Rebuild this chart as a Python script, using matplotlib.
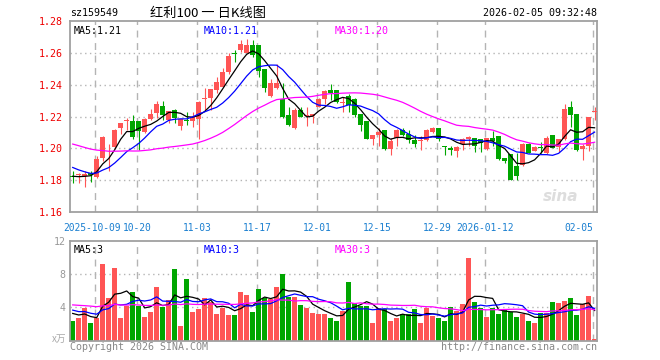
import numpy as np
import pandas as pd
import matplotlib
matplotlib.use("Agg")
import matplotlib.pyplot as plt

plt.rcParams['font.family'] = ['DejaVu Sans Mono', 'Noto Sans CJK SC']

# closes / volumes before the first drawn day, only used to seed the moving averages
prev_close = [1.215, 1.217, 1.214, 1.212, 1.216, 1.213, 1.211, 1.214, 1.212, 1.211,
              1.210, 1.208, 1.211, 1.207, 1.209, 1.205, 1.207, 1.204, 1.202, 1.203,
              1.199, 1.196, 1.193, 1.191, 1.1885, 1.185, 1.183, 1.181, 1.181]
prev_vol = [4.2, 5.1, 3.8, 4.9, 6.0, 4.4, 3.9, 5.2, 4.6, 4.1, 5.5, 4.3, 3.7, 4.8, 5.0,
            4.2, 4.6, 3.9, 4.7, 5.3, 4.5, 3.8, 4.2, 3.9, 3.95, 3.6, 3.3, 3.7, 3.42]

opens = [1.1827, 1.1833, 1.1825, 1.1846, 1.182, 1.194, 1.2, 1.201, 1.213, 1.2171,
         1.2169, 1.2169, 1.210, 1.2183, 1.222, 1.2267, 1.218, 1.2238, 1.2138, 1.2175,
         1.2169, 1.2185, 1.2313, 1.2315, 1.2367, 1.2388, 1.2481, 1.2598, 1.2617, 1.26,
         1.2648, 1.2648, 1.2496, 1.2329, 1.2377, 1.2308, 1.221, 1.2127, 1.2238, 1.2202,
         1.2204, 1.2262, 1.2308, 1.2367, 1.2367, 1.2286, 1.2329, 1.2308, 1.2217, 1.2169,
         1.206, 1.2081, 1.2117, 1.1998, 1.2065, 1.2117, 1.2092, 1.205, 1.2044, 1.205,
         1.21, 1.2127, 1.2013, 1.2002, 1.1981, 1.2029, 1.206, 1.2065, 1.206, 1.1996,
         1.2065, 1.2075, 1.194, 1.1965, 1.1888, 1.1898, 1.2027, 1.1985, 1.2003, 1.1971,
         1.2085, 1.2008, 1.206, 1.2262, 1.2217, 1.1998, 1.2017, 1.2231]
highs = [1.1856, 1.1846, 1.186, 1.1856, 1.195, 1.208, 1.203, 1.212, 1.216, 1.219,
         1.221, 1.2169, 1.219, 1.2246, 1.23, 1.23, 1.2235, 1.2246, 1.2185, 1.223,
         1.223, 1.23, 1.2377, 1.237, 1.2446, 1.2502, 1.2596, 1.2617, 1.268, 1.2685,
         1.2679, 1.2648, 1.2496, 1.2438, 1.2529, 1.2412, 1.2262, 1.2252, 1.2262, 1.2262,
         1.2217, 1.2315, 1.2367, 1.2402, 1.2367, 1.232, 1.234, 1.2315, 1.2217, 1.2169,
         1.2081, 1.2127, 1.2117, 1.2065, 1.2121, 1.2127, 1.2113, 1.2085, 1.2075, 1.2121,
         1.2137, 1.2127, 1.2013, 1.2017, 1.2013, 1.2065, 1.2079, 1.2065, 1.206, 1.2065,
         1.2106, 1.2075, 1.194, 1.1965, 1.197, 1.2033, 1.2033, 1.2017, 1.2038, 1.2075,
         1.2085, 1.2058, 1.2279, 1.2298, 1.2217, 1.2029, 1.22, 1.2262]
lows = [1.1783, 1.178, 1.176, 1.179, 1.1815, 1.192, 1.1856, 1.2005, 1.209, 1.2117,
        1.206, 1.199, 1.2096, 1.2179, 1.219, 1.218, 1.216, 1.2162, 1.2113, 1.2148,
        1.2133, 1.206, 1.2242, 1.224, 1.2346, 1.2385, 1.247, 1.2544, 1.2607, 1.2596,
        1.2575, 1.2446, 1.2356, 1.2325, 1.2371, 1.219, 1.2142, 1.212, 1.2196, 1.2142,
        1.2158, 1.2262, 1.2279, 1.2304, 1.2283, 1.2231, 1.2231, 1.2196, 1.2106, 1.2058,
        1.2023, 1.2012, 1.1992, 1.196, 1.2013, 1.2075, 1.2033, 1.2008, 1.1992, 1.2044,
        1.2096, 1.2044, 1.196, 1.196, 1.1946, 1.1992, 1.2013, 1.1975, 1.1975, 1.199,
        1.2013, 1.1925, 1.1908, 1.18, 1.18, 1.1892, 1.1971, 1.1981, 1.1971, 1.1967,
        1.2002, 1.1975, 1.2054, 1.2133, 1.1981, 1.1929, 1.1983, 1.2179]
closes = [1.1823, 1.1837, 1.184, 1.183, 1.1933, 1.207, 1.2005, 1.2117, 1.216, 1.2175,
          1.2069, 1.2106, 1.2185, 1.2217, 1.228, 1.221, 1.2235, 1.219, 1.2185, 1.2173,
          1.2196, 1.2288, 1.2317, 1.237, 1.2415, 1.2477, 1.2579, 1.2594, 1.2654, 1.2648,
          1.2585, 1.2487, 1.2381, 1.2412, 1.2408, 1.2196, 1.2148, 1.2238, 1.22, 1.2206,
          1.2217, 1.2308, 1.236, 1.235, 1.2294, 1.2288, 1.2273, 1.221, 1.2148, 1.206,
          1.2081, 1.21, 1.1998, 1.2048, 1.2113, 1.2085, 1.2054, 1.2029, 1.205, 1.2113,
          1.2127, 1.2058, 1.2010, 1.1988, 1.2008, 1.2058, 1.2069, 1.2017, 1.2033, 1.2065,
          1.2044, 1.1935, 1.1919, 1.1804, 1.1829, 1.2027, 1.1971, 1.2008, 1.2001, 1.2065,
          1.2002, 1.2058, 1.2248, 1.221, 1.1988, 1.2017, 1.2196, 1.2235]
volumes = [2.33, 2.68, 3.88, 2.17, 2.76, 9.17, 5.09, 8.74, 2.68, 4.16,
           5.79, 4.16, 2.87, 3.46, 6.49, 4.08, 4.85, 8.58, 1.71, 7.42,
           3.46, 3.84, 5.09, 4.62, 3.22, 3.92, 3.11, 3.11, 5.9, 5.44,
           3.46, 6.25, 5.13, 5.01, 6.49, 8.0, 5.2, 5.2, 4.27, 3.92,
           3.34, 3.22, 3.26, 2.68, 2.41, 3.57, 6.99, 4.54, 4.16, 4.16,
           2.1, 3.96, 3.77, 2.33, 2.68, 3.18, 3.18, 3.84, 2.17, 3.96,
           3.0, 2.72, 2.41, 4.04, 3.57, 4.43, 9.98, 4.62, 3.96, 2.87,
           3.96, 3.18, 3.84, 3.5, 2.8, 3.26, 2.41, 2.1, 3.38, 3.38,
           4.66, 4.5, 4.75, 5.14, 3.07, 4.39, 5.35, 0.2]

tick_pos = [4, 11, 21, 31, 41, 51, 61, 69, 87]
tick_text = ['2025-10-09', '10-20', '11-03', '11-17', '12-01', '12-15',
             '12-29', '2026-01-12', '02-05']

UP = '#ff5555'
DOWN = '#00a600'
GRID = '#b4b4b4'
FRAME = '#a0a0a0'

n = len(closes)
x = np.arange(n)
o = np.array(opens); h = np.array(highs); l = np.array(lows); c = np.array(closes)
col = np.where(c >= o, UP, DOWN)

pc = pd.Series(prev_close + closes)
pv = pd.Series(prev_vol + volumes)
k = len(prev_close)
ma = {m: pc.rolling(m).mean().values[k:] for m in (5, 10, 30)}
vma = {m: pv.rolling(m).mean().values[k:] for m in (5, 10, 30)}
ma_col = {5: 'black', 10: '#0000ff', 30: '#ff00ff'}

W, H = 660, 360
fig = plt.figure(figsize=(6.6, 3.6), dpi=100)

def box(left, top, right, bottom):
    return [left / W, 1 - bottom / H, (right - left) / W, (bottom - top) / H]

ax = fig.add_axes(box(70, 21, 597, 212))
axv = fig.add_axes(box(70, 240.7, 597, 340.7))

for a in (ax, axv):
    a.set_xlim(-0.45, 87.4)
    for s in a.spines.values():
        s.set_color(FRAME)
        s.set_linewidth(1.3)
    a.set_xticks([])
    for t in tick_pos:
        a.axvline(t - 0.25, color=GRID, lw=1, dashes=(5, 4), zorder=0)

# price panel
ax.set_ylim(1.16, 1.28)
for p in [1.18, 1.20, 1.22, 1.24, 1.26]:
    ax.axhline(p, color=GRID, lw=1, dashes=(1, 2.5), zorder=0)
ax.vlines(x, l, h, colors=col, lw=0.8, zorder=2)
ax.bar(x, np.maximum(np.abs(c - o), 0.0005), bottom=np.minimum(o, c), width=0.75,
       color=col, lw=0, zorder=3)
for m in (5, 10, 30):
    ax.plot(x, ma[m], color=ma_col[m], lw=0.9, zorder=4)
ax.set_yticks([1.16, 1.18, 1.20, 1.22, 1.24, 1.26, 1.28])
ax.set_yticklabels(['%.2f' % v for v in ax.get_yticks()], color='#ee0000', fontsize=7.2)
ax.tick_params(axis='y', length=0, pad=5)

# date labels under the price panel, the first one nudged left, the last right-aligned
shift = {0: -0.55, len(tick_pos) - 1: 0.05}
for i, (t, s) in enumerate(zip(tick_pos, tick_text)):
    ha = 'right' if i == len(tick_pos) - 1 else 'center'
    ax.text(t - 0.25 + shift.get(i, 0), -0.085, s, transform=ax.get_xaxis_transform(),
            ha=ha, va='center', fontsize=6.9, color='#1a7fd0')

ax.text(0.007, 0.975, 'MA5:1.21', transform=ax.transAxes, ha='left', va='top',
        fontsize=7.2, color='black')
ax.text(0.254, 0.975, 'MA10:1.21', transform=ax.transAxes, ha='left', va='top',
        fontsize=7.2, color='#0000ff')
ax.text(0.502, 0.975, 'MA30:1.20', transform=ax.transAxes, ha='left', va='top',
        fontsize=7.2, color='#ff00ff')
ax.text(0.965, 0.08, 'sina', transform=ax.transAxes, ha='right', va='center',
        fontsize=11, color='#dddddd', style='italic', fontweight='bold', family='DejaVu Sans')

# volume panel
axv.set_ylim(0, 12)
for v in [4, 8]:
    axv.axhline(v, color=GRID, lw=1, dashes=(1, 2.5), zorder=0)
axv.bar(x, volumes, width=0.83, color=col, lw=0, zorder=2)
for m in (5, 10, 30):
    axv.plot(x, vma[m], color=ma_col[m], lw=0.9, zorder=4)
axv.set_yticks([4, 8, 12])
axv.set_yticklabels(['4', '8', '12'], color='#999999', fontsize=7.2)
axv.tick_params(axis='y', length=0, pad=3)
axv.text(0.007, 0.96, 'MA5:3', transform=axv.transAxes, ha='left', va='top',
         fontsize=7.2, color='black')
axv.text(0.254, 0.96, 'MA10:3', transform=axv.transAxes, ha='left', va='top',
         fontsize=7.2, color='#0000ff')
axv.text(0.502, 0.96, 'MA30:3', transform=axv.transAxes, ha='left', va='top',
         fontsize=7.2, color='#ff00ff')

# header / footer
fig.text(70 / W, 1 - 13 / H, 'sz159549', ha='left', va='center', fontsize=7.2)
fig.text(150 / W, 1 - 13 / H, '红利100 一 日K线图', ha='left', va='center', fontsize=9.5,
         family=['Noto Sans CJK SC', 'DejaVu Sans'])
fig.text(597 / W, 1 - 13 / H, '2026-02-05 09:32:48', ha='right', va='center', fontsize=7.2)
fig.text(66 / W, 1 - 339 / H, 'x万', ha='right', va='center', fontsize=7, color='#aaaaaa',
         family=['Noto Sans CJK SC', 'DejaVu Sans'])
fig.text(70 / W, 1 - 347 / H, 'Copyright 2026 SINA.COM', ha='left', va='center',
         fontsize=7.2, color='#888888')
fig.text(597 / W, 1 - 347 / H, 'http://finance.sina.com.cn', ha='right', va='center',
         fontsize=7.2, color='#888888')

fig.savefig('out.png', dpi=100, facecolor='white')
